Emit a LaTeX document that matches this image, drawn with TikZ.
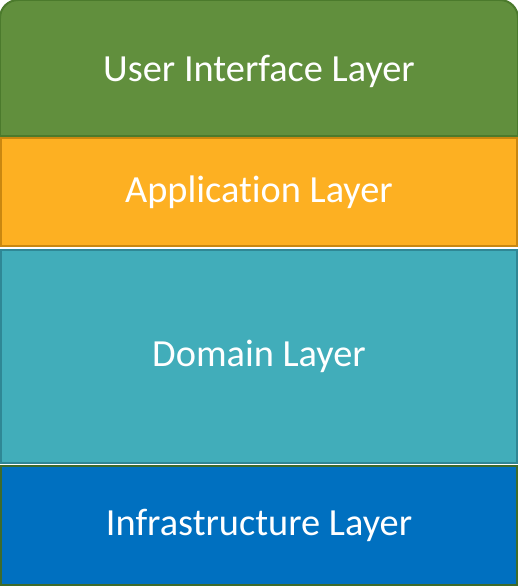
\documentclass[tikz,border=0pt]{standalone}
\usepackage{fontspec}
\setmainfont{Carlito}[Ligatures=NoCommon]
\usetikzlibrary{positioning}

\definecolor{uigreen}{HTML}{618F3D}
\definecolor{uiedge}{HTML}{4B7A2C}
\definecolor{appyellow}{HTML}{FDB022}
\definecolor{appedge}{HTML}{C98710}
\definecolor{domteal}{HTML}{41ADBA}
\definecolor{domedge}{HTML}{2F8795}
\definecolor{infblue}{HTML}{0070C0}
\definecolor{infedge}{HTML}{3D6B2B}

\begin{document}
\begin{tikzpicture}[x=1bp,y=-1bp,
    layer/.style={rectangle, line width=2bp, minimum width=516bp, inner sep=0pt,
                  text=white, font=\fontsize{38.5}{44}\selectfont}]
    \useasboundingbox (0,0) rectangle (518,586);

    % the top layer gets round corners on top only
    \node[layer, minimum height=134bp] (ui) at (259,68) {};
    \draw[line width=2bp, draw=uiedge, fill=uigreen] (ui.south west) [rounded corners=18bp] -- (ui.north west) -- (ui.north east) [sharp corners] -- (ui.south east) -- cycle;
    \node[layer, below=3bp of ui.center, anchor=center] (uitext) {User Interface Layer};

    \node[layer, minimum height=107bp, fill=appyellow, draw=appedge] (app) at (259,192) {Application Layer};
    \node[layer, minimum height=213bp, fill=domteal, draw=domedge] (dom) at (259,356) {Domain Layer};
    \node[layer, minimum height=119bp, fill=infblue, draw=infedge] (inf) at (259,525.5) {Infrastructure Layer};
\end{tikzpicture}
\end{document}
